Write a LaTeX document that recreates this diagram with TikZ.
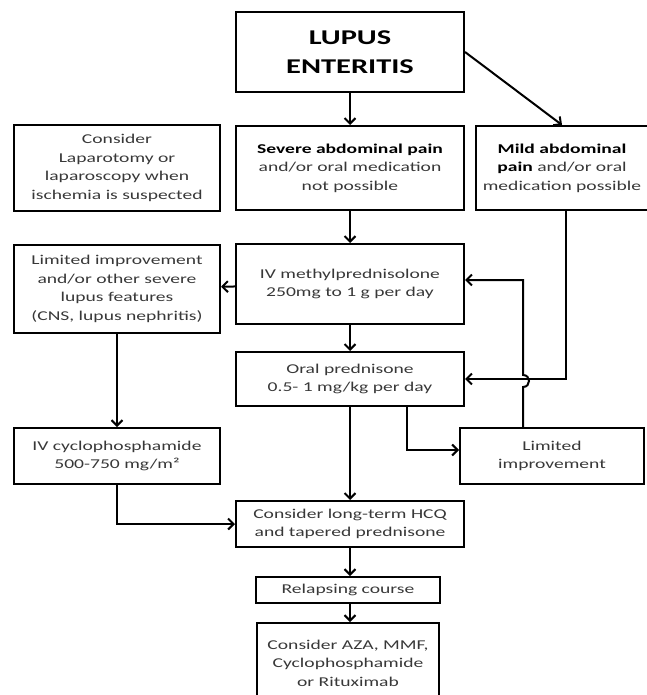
\documentclass[tikz,border=0pt]{standalone}
\usepackage{fontspec}
\setmainfont[FakeStretch=1.45]{Carlito}
\usepackage{tikz}
\usetikzlibrary{calc}
\usetikzlibrary{arrows.meta, positioning}
\tikzset{>={Straight Barb[length=5.5pt,width=11pt]}}
\tikzset{box/.style={draw, line width=2pt, align=center, inner sep=0pt, text=black!78, font=\fontsize{13.5}{18.5}\selectfont}}
\tikzset{link/.style={->, line width=2pt}}
\newcommand{\hl}[1]{{\color{black}\bfseries #1}}

\begin{document}
\begin{tikzpicture}[x=1pt, y=-1pt]
			\useasboundingbox (0, 0) rectangle (646, 695);
			\node [box, minimum width=228, minimum height=80, text=black, font=\fontsize{21}{29}\selectfont\bfseries] (lupus) at (350, 52) {LUPUS\\ENTERITIS};
			\node [box, minimum width=228, minimum height=84] (severe) at (350, 168) {\hl{Severe abdominal pain}\\and/or oral medication\\not possible};
			\node [box, minimum width=172, minimum height=84] (mild) at (562, 168) {\hl{Mild abdominal}\\\hl{pain} and/or oral\\medication possible};
			\node [box, minimum width=206, minimum height=85] (lapar) at (117, 168) {Consider\\Laparotomy or\\laparoscopy when\\ischemia is suspected};
			\node [box, minimum width=206, minimum height=88] (limleft) at (117, 289) {Limited improvement\\and/or other severe\\lupus features\\(CNS, lupus nephritis)};
			\node [box, minimum width=228, minimum height=80] (ivmp) at (350, 284) {IV methylprednisolone\\250mg to 1 g per day};
			\node [box, minimum width=228, minimum height=54] (oral) at (350, 379) {Oral prednisone\\0.5- 1 mg/kg per day};
			\node [box, minimum width=206, minimum height=56] (cyclo) at (117, 456) {IV cyclophosphamide\\500-750 mg/m²};
			\node [box, minimum width=184, minimum height=56] (limright) at (552, 456) {Limited\\improvement};
			\node [box, minimum width=228, minimum height=46] (hcq) at (350, 524) {Consider long-term HCQ\\and tapered prednisone};
			\node [box, minimum width=184, minimum height=26] (relapse) at (348, 590) {Relapsing course};
			\node [box, minimum width=182, minimum height=80] (second) at (348, 663) {Consider AZA, MMF,\\Cyclophosphamide\\or Rituximab};
			% main line
			\draw [link] (lupus) -- (severe);
			\draw [link] (lupus.east) -- (mild.north);
			\draw [link] (severe) -- (ivmp);
			\draw [link] (ivmp) -- (oral);
			\draw [link] (oral) -- (hcq);
			\draw [link] (hcq.south) -- (hcq.south |- relapse.north);
			\draw [link] (relapse.south -| hcq.south) -- (hcq.south |- second.north);
			% left side
			\draw [link] (ivmp) -- (limleft);
			\draw [link] (limleft) -- (cyclo);
			\draw [link] (cyclo.south) |- (hcq.west);
			% right side
			\coordinate (back) at ($(ivmp.east)+(0, -4)$);
			\draw [link] (mild.south -| 566, 0) |- (oral.east);
			\draw [link] (limright.north -| 523, 0) -- (523, 387) .. controls (531, 387) and (531, 375) .. (523, 375) -- (523, 280) -- (back);
			\draw [link] (oral.south -| 407, 0) |- ($(limright.west)+(0, -6)$);
		\end{tikzpicture}
\end{document}
